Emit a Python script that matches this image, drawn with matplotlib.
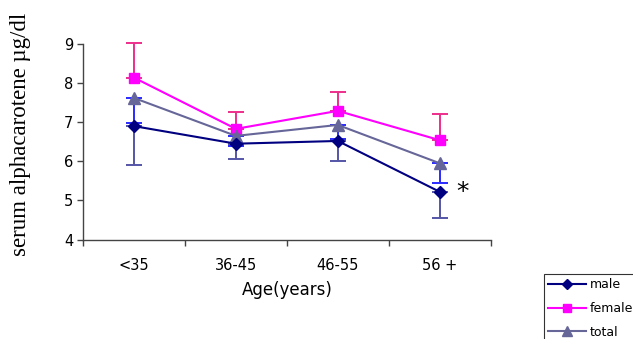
import matplotlib
matplotlib.use("Agg")
import matplotlib.pyplot as plt
import numpy as np

categories = ["<35", "36-45", "46-55", "56 +"]
male = [6.90, 6.45, 6.52, 5.22]
male_err_low = [1.00, 0.38, 0.50, 0.66]
female = [8.14, 6.83, 7.29, 6.54]
female_err_up = [0.88, 0.42, 0.47, 0.67]
total = [7.62, 6.65, 6.93, 5.95]
total_err_low = [0.63, 0.25, 0.35, 0.50]
yticks = [4, 5, 6, 7, 8, 9]

W, H = 633, 339
fig = plt.figure(figsize=(W / 100, H / 100), dpi=100)
ax = fig.add_axes([83 / W, 1 - 239.5 / H, (490.7 - 83) / W, (239.5 - 44) / H])

x = np.arange(len(categories)) + 0.5
zero = [0] * len(categories)


def unclip(container):
    for group in container.lines:
        if group is None:
            continue
        items = group if isinstance(group, (tuple, list)) else [group]
        for a in items:
            a.set_clip_on(False)


# error bars
unclip(ax.errorbar(x, male, yerr=[male_err_low, zero], fmt="none", ecolor="#5555a8",
                   elinewidth=1.4, capsize=6, capthick=1.4, zorder=2))
unclip(ax.errorbar(x, total, yerr=[total_err_low, zero], fmt="none", ecolor="#2a2aff",
                   elinewidth=1.4, capsize=6, capthick=1.4, zorder=2))
unclip(ax.errorbar(x, female, yerr=[zero, female_err_up], fmt="none", ecolor="#ee2e8c",
                   elinewidth=1.4, capsize=6, capthick=1.4, zorder=2))

ax.plot(x, male, color="#000080", marker="D", markersize=6, lw=1.5, label="male", zorder=4)
ax.plot(x, female, color="#ff00ff", marker="s", markersize=6.5, lw=1.5, label="female", zorder=3)
ax.plot(x, total, color="#666699", marker="^", markersize=8, lw=1.5, label="total", zorder=3)

ax.set_xlim(0, 4)
ax.set_ylim(4, 9)
ax.set_yticks(yticks)
ax.set_yticklabels([str(v) for v in yticks], fontsize=10.5)
ax.set_xticks(range(5))
ax.set_xticklabels([])
ax.set_xticks(x, minor=True)
ax.set_xticklabels(categories, minor=True, fontsize=10.5)
ax.tick_params(axis="x", which="major", direction="out", length=4, width=1, color="#444444")
ax.tick_params(axis="x", which="minor", length=0, pad=13)
ax.tick_params(axis="y", direction="out", length=4, width=1, color="#444444", pad=3)
for s in ["top", "right"]:
    ax.spines[s].set_visible(False)
for s in ["left", "bottom"]:
    ax.spines[s].set_color("#444444")
    ax.spines[s].set_linewidth(1)

ax.set_xlabel("Age(years)", fontsize=12, labelpad=6)

fig.text(21 / W, 1 - 134 / H, "serum alphacarotene µg/dl", rotation=90,
         family="Liberation Serif", fontsize=16.5, ha="center", va="center")

ax.text(x[3] + 0.22, male[3], "*", fontsize=18, ha="center", va="center")

leg = fig.legend(loc="upper left", bbox_to_anchor=(544 / W, 1 - 274 / H),
                 frameon=True, fancybox=False, edgecolor="black", fontsize=9,
                 handlelength=3.0, handletextpad=0.3, labelspacing=0.85,
                 borderpad=0.35, borderaxespad=0, markerscale=0.9)
leg.get_frame().set_linewidth(0.8)

fig.savefig("out.png", dpi=100)
